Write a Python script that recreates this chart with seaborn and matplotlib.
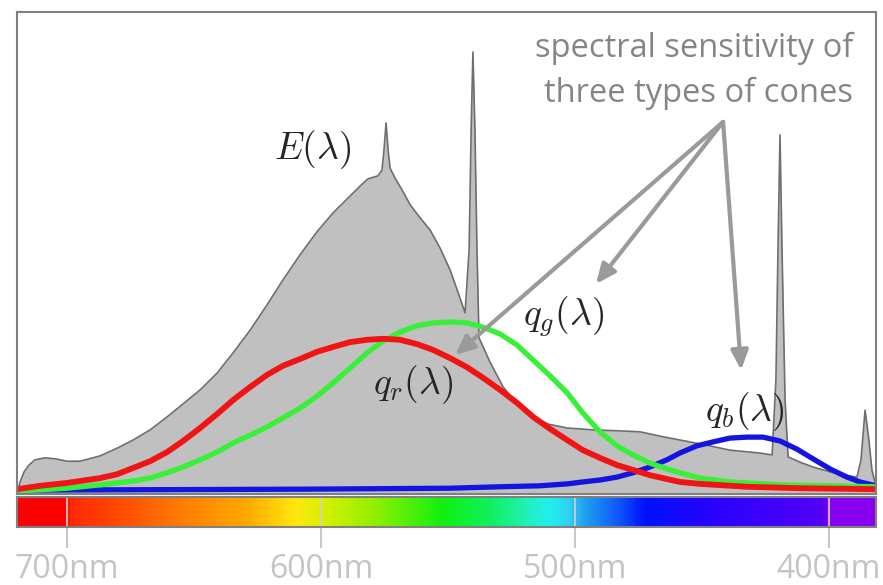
import numpy as np
import matplotlib
matplotlib.use("Agg")
import matplotlib.pyplot as plt
from matplotlib.colors import LinearSegmentedColormap
import seaborn as sns

# light source spectrum E(lambda) (nm, relative power)
e_nm = [719.7, 718.5, 716.9, 715.0, 712.6, 708.7, 704.7, 700.0, 694.9, 687.0,
        680.3, 674.0, 667.3, 660.6, 654.3, 647.6, 640.9, 634.6, 627.9, 621.3,
        615.0, 608.3, 601.6, 595.3, 588.6, 584.6, 581.5, 577.6, 576.0, 575.2,
        574.4, 573.6, 572.8, 570.9, 567.7, 564.9, 561.0, 557.1, 553.1, 549.2,
        546.1, 543.3, 541.7, 540.9, 540.2, 539.4, 538.6, 537.8, 533.5, 528.3,
        522.8, 517.7, 510.6, 503.1, 492.9, 482.3, 474.4, 466.5, 458.7, 448.8,
        439.0, 427.2, 422.4, 420.9, 420.1, 419.3, 418.5, 417.3, 416.1, 411.4,
        406.3, 399.6, 393.7, 389.0, 387.4, 385.8, 384.3, 383.1, 381.5]
e_val = [0.000, 0.025, 0.046, 0.060, 0.071, 0.075, 0.073, 0.068, 0.068, 0.079,
         0.095, 0.112, 0.133, 0.160, 0.187, 0.216, 0.251, 0.293, 0.340, 0.392,
         0.444, 0.496, 0.544, 0.583, 0.618, 0.639, 0.654, 0.660, 0.672, 0.714,
         0.770, 0.714, 0.676, 0.656, 0.627, 0.600, 0.573, 0.548, 0.510, 0.465,
         0.419, 0.376, 0.506, 0.755, 0.917, 0.755, 0.506, 0.324, 0.274, 0.222,
         0.187, 0.164, 0.145, 0.137, 0.133, 0.131, 0.129, 0.120, 0.112, 0.102,
         0.091, 0.085, 0.081, 0.237, 0.506, 0.745, 0.506, 0.195, 0.077, 0.066,
         0.056, 0.046, 0.039, 0.035, 0.071, 0.174, 0.112, 0.050, 0.015]

# cone sensitivities q_r, q_g, q_b
r_nm = [719.7, 710.6, 700.0, 687.0, 680.3, 674.0, 667.3, 660.6, 654.3, 647.6,
        640.9, 634.6, 627.9, 621.3, 615.0, 608.3, 601.6, 595.3, 588.6, 581.9,
        575.6, 568.9, 562.2, 555.9, 549.2, 542.5, 536.2, 529.5, 522.8, 516.5,
        509.8, 503.1, 496.9, 490.2, 483.5, 477.2, 470.5, 463.8, 458.7, 450.8,
        432.3, 411.4, 381.5]
r_val = [0.010, 0.017, 0.023, 0.033, 0.041, 0.054, 0.068, 0.087, 0.110, 0.137,
         0.166, 0.195, 0.222, 0.247, 0.266, 0.280, 0.295, 0.305, 0.315, 0.320,
         0.322, 0.320, 0.311, 0.299, 0.282, 0.263, 0.241, 0.216, 0.189, 0.160,
         0.135, 0.112, 0.091, 0.075, 0.060, 0.050, 0.039, 0.031, 0.025, 0.021,
         0.015, 0.012, 0.010]

g_nm = [719.7, 700.0, 687.0, 674.0, 667.3, 660.6, 654.3, 647.6, 640.9, 634.6,
        627.9, 621.3, 615.0, 608.3, 601.6, 595.3, 588.6, 581.9, 575.6, 568.9,
        562.2, 555.9, 549.2, 542.5, 536.2, 529.5, 522.8, 516.5, 509.8, 503.1,
        496.9, 490.2, 483.5, 477.2, 470.5, 463.8, 458.7, 450.8, 439.0, 419.3,
        381.5]
g_val = [0.006, 0.012, 0.019, 0.027, 0.033, 0.044, 0.056, 0.071, 0.087, 0.106,
         0.122, 0.139, 0.158, 0.178, 0.203, 0.230, 0.261, 0.293, 0.317, 0.336,
         0.349, 0.355, 0.357, 0.355, 0.346, 0.332, 0.309, 0.278, 0.245, 0.210,
         0.168, 0.129, 0.100, 0.081, 0.064, 0.052, 0.044, 0.033, 0.025, 0.019,
         0.015]

b_nm = [719.7, 608.3, 549.2, 529.5, 513.8, 503.1, 496.9, 490.2, 483.5, 477.2,
        470.5, 463.8, 458.7, 452.0, 445.7, 439.0, 432.3, 426.0, 419.3, 412.6,
        406.3, 399.6, 392.9, 387.8, 381.5]
b_val = [0.008, 0.010, 0.012, 0.015, 0.017, 0.021, 0.025, 0.029, 0.035, 0.044,
         0.056, 0.071, 0.085, 0.100, 0.108, 0.116, 0.118, 0.118, 0.110, 0.093,
         0.073, 0.052, 0.035, 0.025, 0.017]

# colours of the spectrum strip
band_nm = [380, 399.5, 400.5, 405, 444, 472, 484, 496, 502, 510, 520, 533,
           552, 579, 599, 610, 630, 654, 685, 699.5, 700.5, 720]
band_colors = ["#8800ee", "#8800ee", "#5a00f0", "#5000f8", "#2a00ff", "#0010ff",
               "#1060f8", "#20a0f0", "#30d0f0", "#20f0f0", "#20f0b0", "#10f060",
               "#10f010", "#90f000", "#d8f000", "#ffe810", "#ffa800", "#ff8000",
               "#ff4000", "#ff2800", "#ff0000", "#ff0000"]

tick_nm = [700, 600, 500, 400]
tick_labels = ["700nm", "600nm", "500nm", "400nm"]

sns.set_style("white")
plt.rcParams["font.family"] = ["Open Sans", "DejaVu Sans"]
plt.rcParams["mathtext.fontset"] = "cm"

W, H = 883, 585
fig = plt.figure(figsize=(W / 100, H / 100), dpi=100)
ax = fig.add_axes([17 / W, (H - 494) / H, 859 / W, 482 / H])
ax_bar = fig.add_axes([17 / W, (H - 527) / H, 859 / W, 30 / H])

xlim = (719.7, 381.5)
frame = "#808080"

# spectrum of the light
ax.fill_between(e_nm, e_val, 0, color="#c0c0c0", lw=0)
sns.lineplot(x=e_nm, y=e_val, ax=ax, color="#6e6e6e", linewidth=1.2,
             estimator=None, sort=False)

line_kw = dict(ax=ax, estimator=None, sort=False, solid_joinstyle="round",
               solid_capstyle="round")
sns.lineplot(x=b_nm, y=b_val, color="#1414e0", linewidth=3.8, **line_kw)
sns.lineplot(x=g_nm, y=g_val, color="#38f038", linewidth=3.8, **line_kw)
sns.lineplot(x=r_nm, y=r_val, color="#f01414", linewidth=4.2, **line_kw)

ax.set_xlim(*xlim)
ax.set_ylim(0, 1)
ax.set_xticks([])
ax.set_yticks([])
ax.set_xlabel("")
ax.set_ylabel("")
for sp in ax.spines.values():
    sp.set_color(frame)
    sp.set_linewidth(1.5)

ax.text(603.5, 0.714, r"$E(\lambda)$", fontsize=27, ha="center", va="center")
ax.text(504.7, 0.367, r"$q_g(\lambda)$", fontsize=27, ha="center", va="center")
ax.text(563.8, 0.228, r"$q_r(\lambda)$", fontsize=27, ha="center", va="center")
ax.text(433.1, 0.170, r"$q_b(\lambda)$", fontsize=27, ha="center", va="center")

ax.text(390.6, 0.925, "spectral sensitivity of", fontsize=23.5, color="#858585",
        ha="right", va="center")
ax.text(390.6, 0.832, "three types of cones", fontsize=23.5, color="#858585",
        ha="right", va="center")

tail = (441.7, 0.772)
arrow = dict(arrowstyle="-|>,head_length=0.9,head_width=0.4", color="#9a9a9a",
             lw=3, mutation_scale=13, shrinkA=0, shrinkB=0)
for tip in [(491.7, 0.436), (547.2, 0.288), (434.6, 0.257)]:
    ax.annotate("", xy=tip, xytext=tail, arrowprops=arrow)

# colour strip under the plot
pos = [(nm - 380) / 340 for nm in band_nm]
cmap = LinearSegmentedColormap.from_list("spec", list(zip(pos, band_colors)))
grad = np.linspace(380, 720, 1200)[np.newaxis, :]
ax_bar.imshow(grad, aspect="auto", cmap=cmap, vmin=380, vmax=720,
              extent=(380, 720, 0, 1))
ax_bar.set_xlim(*xlim)
ax_bar.set_ylim(0, 1)
ax_bar.set_yticks([])
for nm in tick_nm:
    ax_bar.axvline(nm, color="#d0d0d0", lw=1.5, alpha=0.85)
ax_bar.set_xticks(tick_nm)
ax_bar.set_xticklabels(tick_labels)
ax_bar.tick_params(axis="x", bottom=True, length=15, width=1.5, color="#c8c8c8",
                   labelsize=23, labelcolor="#c4c4c4", pad=4)
for sp in ax_bar.spines.values():
    sp.set_color(frame)
    sp.set_linewidth(1.5)

fig.savefig("out.png", dpi=100)
